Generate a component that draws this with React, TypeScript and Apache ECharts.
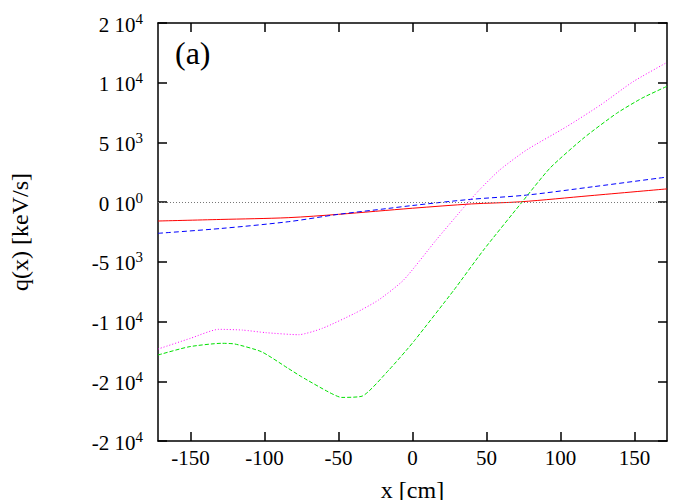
import React, { useEffect, useRef } from 'react';
import * as echarts from 'echarts';

// ---- axes ----
const xMin = -172;
const xMax = 172;
const xTicks = [-150, -100, -50, 0, 50, 100, 150];
const yMin = -20000;
const yMax = 15000;
const yStep = 5000;
const yTickValues = [-20000, -15000, -10000, -5000, 0, 5000, 10000, 15000];
const yTickMantissa = ['-2', '-2', '-1', '-5', '0', '5', '1', '2'];
const yTickExponent = ['4', '4', '4', '3', '0', '3', '4', '4'];

// ---- series (x in cm, q in keV/s) ----
const redX = [-172, -130, -84, -50, 0, 40, 73, 120, 172];
const redY = [-1580, -1450, -1300, -1020, -510, -150, 30, 540, 1110];

const blueX = [-172, -129, -84, -50, -16, 0, 39, 77, 122, 172];
const blueY = [-2610, -2200, -1640, -1020, -520, -280, 230, 590, 1290, 2100];

const magentaX = [-172, -150, -131, -115, -99, -77, -61, -39, -23, -6, 16, 35, 45, 59, 77, 104, 127, 149, 172];
const magentaY = [-12300, -11400, -10650, -10710, -10930, -11100, -10570, -9310, -8200, -6520, -3170, -390, 1000, 2700, 4360, 6310, 8130, 10080, 11700];

const greenX = [-172, -151, -129, -120, -102, -84, -75, -57, -48, -34, -16, -4, 2, 28, 48, 74, 93, 116, 138, 155, 172];
const greenY = [-12800, -12110, -11820, -11880, -12530, -13920, -14620, -15880, -16350, -16240, -14060, -12380, -11490, -7360, -4010, 0, 2860, 5400, 7440, 8700, 9700];

const zeroLevel = 0;

const serif = 'Liberation Serif';

function zip(xs: number[], ys: number[]) {
  return xs.map((x, i) => [x, ys[i]]);
}

export default function App() {
  const ref = useRef<HTMLDivElement>(null);
  useEffect(() => {
    if (!ref.current) return;
    const chart = echarts.init(ref.current, undefined, { renderer: 'svg' });
    const axisLine = { onZero: false, lineStyle: { color: '#000', width: 1.5 } };
    const tickStyle = { color: '#000', width: 1.5 };
    const lineSeries = (name: string, xs: number[], ys: number[], color: string, type: any, extra: any = {}) => ({
      name,
      type: 'line',
      data: zip(xs, ys),
      symbol: 'none',
      showSymbol: false,
      silent: true,
      clip: true,
      lineStyle: { color, width: 1, type },
      ...extra,
    });
    chart.setOption({
      animation: false,
      backgroundColor: '#fff',
      textStyle: { fontFamily: serif },
      grid: { left: 158, right: 33, top: 23, bottom: 59, containLabel: false, outerBoundsMode: 'none' },
      xAxis: [
        {
          type: 'value',
          position: 'bottom',
          min: xMin,
          max: xMax,
          axisLine,
          axisTick: { inside: true, length: 9, customValues: xTicks, lineStyle: tickStyle },
          axisLabel: { customValues: xTicks, color: '#000', fontSize: 21, fontFamily: serif, margin: 6 },
          splitLine: { show: false },
          name: 'x [cm]',
          nameLocation: 'middle',
          nameGap: 37,
          nameTextStyle: { color: '#000', fontSize: 24, fontFamily: serif },
        },
        {
          type: 'value',
          position: 'top',
          min: xMin,
          max: xMax,
          axisLine,
          axisTick: { inside: true, length: 9, customValues: xTicks, lineStyle: tickStyle },
          axisLabel: { show: false },
          splitLine: { show: false },
        },
      ],
      yAxis: [
        {
          type: 'value',
          position: 'left',
          min: yMin,
          max: yMax,
          interval: yStep,
          axisLine,
          axisTick: { inside: true, length: 9, lineStyle: tickStyle },
          axisLabel: {
            margin: 15,
            fontFamily: serif,
            formatter: (v: number) => {
              const i = yTickValues.indexOf(v);
              if (i < 0) return '';
              return `{m|${yTickMantissa[i]} 10}{e|${yTickExponent[i]}}`;
            },
            rich: {
              m: { fontSize: 21, fontFamily: serif, color: '#000', lineHeight: 24, verticalAlign: 'bottom' },
              e: { fontSize: 15, fontFamily: serif, color: '#000', lineHeight: 14, verticalAlign: 'top' },
            },
          },
          splitLine: { show: false },
          name: 'q(x) [keV/s]',
          nameLocation: 'middle',
          nameGap: 126,
          nameRotate: 90,
          nameTextStyle: { color: '#000', fontSize: 24, fontFamily: serif },
        },
        {
          type: 'value',
          position: 'right',
          min: yMin,
          max: yMax,
          interval: yStep,
          axisLine,
          axisTick: { inside: true, length: 9, lineStyle: tickStyle },
          axisLabel: { show: false },
          splitLine: { show: false },
        },
      ],
      graphic: [
        {
          type: 'text',
          left: 175,
          top: 37,
          style: { text: '(a)', fontSize: 32, fontFamily: serif, fill: '#000' },
        },
      ],
      series: [
        lineSeries('red', redX, redY, '#ff0000', 'solid', {
          smooth: 0.3,
          markLine: {
            silent: true,
            symbol: 'none',
            label: { show: false },
            lineStyle: { color: '#777', width: 1, type: [1, 2] },
            data: [{ yAxis: zeroLevel }],
          },
        }),
        lineSeries('green', greenX, greenY, '#00e000', [4, 2], { smooth: 0.2 }),
        lineSeries('blue', blueX, blueY, '#0000ff', [5, 3], { smooth: 0.3 }),
        lineSeries('magenta', magentaX, magentaY, '#ff00ff', [1, 2], { smooth: 0.2 }),
      ],
    });
    return () => chart.dispose();
  }, []);
  return <div ref={ref} style={{ position: 'fixed', left: 0, top: 0, width: 700, height: 500, background: '#fff' }} />;
}
